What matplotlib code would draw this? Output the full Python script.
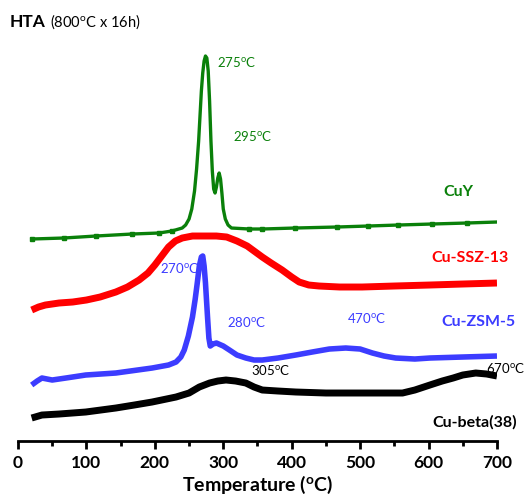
import numpy as np
import matplotlib.pyplot as plt

plt.rcParams['font.family'] = ['Lato', 'DejaVu Sans']

# TPR profiles, signal (offset units, baseline = axis)
t_cuy = [20, 67, 114, 167, 206, 225, 240, 245, 250, 254, 258, 261, 264, 266, 268, 270,
         272, 274, 276, 278, 280, 282, 284, 286, 288, 290, 292, 294, 296, 298, 300, 303,
         307, 312, 338, 357, 405, 466, 512, 556, 605, 656, 700]
s_cuy = [202, 203, 205, 207, 208, 210, 213, 216, 222, 232, 250, 272, 300, 325, 350, 368,
         380, 385, 383, 370, 340, 300, 270, 252, 248, 254, 263, 268, 262, 248, 232, 222,
         216, 213, 212, 212, 213, 214, 215, 216, 217, 218, 219]
t_mark = [20, 67, 114, 167, 206, 225, 338, 357, 405, 466, 512, 556, 605, 656]

t_ssz = [20, 30, 40, 60, 80, 100, 120, 143, 160, 177, 190, 200, 210, 220, 230, 240,
         255, 270, 290, 305, 320, 335, 345, 357, 370, 386, 400, 411, 425, 440, 470, 503,
         550, 602, 650, 700]
s_ssz = [131, 134, 136, 138, 139, 141, 144, 149, 154, 161, 168, 176, 185, 194, 200, 203,
         205, 205, 205, 204, 200, 195, 190, 184, 178, 171, 164, 159, 156, 155, 154, 154,
         155, 156, 157, 158]

t_zsm = [20, 28, 35, 50, 70, 99, 143, 196, 220, 231, 238, 243, 249, 255, 259, 262,
         265, 268, 270, 272, 274, 277, 279, 281, 285, 290, 300, 309, 320, 333, 345, 357,
         380, 406, 430, 455, 479, 500, 518, 535, 552, 580, 602, 650, 700]
s_zsm = [56, 60, 63, 61, 63, 66, 68, 73, 76, 79, 84, 91, 105, 124, 142, 158,
         175, 184, 185, 175, 158, 124, 103, 95, 97, 98, 95, 91, 86, 83, 81, 81,
         83, 86, 89, 92, 93, 92, 88, 85, 83, 82, 83, 84, 85]

t_beta = [20, 35, 60, 99, 143, 170, 196, 231, 250, 265, 280, 292, 304, 318, 333, 345,
          357, 380, 406, 450, 503, 562, 580, 602, 620, 636, 650, 669, 685, 700]
s_beta = [23, 26, 27, 29, 33, 36, 39, 44, 48, 54, 58, 60, 61, 60, 58, 54,
          51, 50, 49, 48, 48, 48, 51, 56, 60, 63, 66, 68, 67, 65]

green = '#0a800a'
red = '#ff0000'
blue = '#3c3cff'

fig = plt.figure(figsize=(5.26, 4.99), dpi=100)
ax = fig.add_axes([0.0342, 0.1162, 0.9106, 0.7936])

mark_cuy = [t_cuy.index(t) for t in t_mark]
ax.plot(t_cuy, s_cuy, color=green, lw=2.4, marker='s', ms=3, markevery=mark_cuy,
        solid_joinstyle='round')
ax.plot(t_ssz, s_ssz, color=red, lw=5, solid_capstyle='butt', solid_joinstyle='round')
ax.plot(t_zsm, s_zsm, color=blue, lw=4, solid_capstyle='butt', solid_joinstyle='round')
ax.plot(t_beta, s_beta, color='black', lw=5, solid_capstyle='butt', solid_joinstyle='round')

ax.set_xlim(0, 700)
ax.set_ylim(0, 396)
for s in ['left', 'right', 'top']:
    ax.spines[s].set_visible(False)
ax.spines['bottom'].set_linewidth(2)
ax.set_yticks([])
ax.set_xticks(np.arange(0, 701, 100))
ax.set_xticks(np.arange(50, 700, 100), minor=True)
ax.tick_params(axis='x', which='major', length=6, width=2, labelsize=12.5, pad=4)
ax.tick_params(axis='x', which='minor', length=3.5, width=2)
for lab in ax.get_xticklabels():
    lab.set_fontweight('bold')
ax.set_xlabel('Temperature ($\\mathregular{^o}$C)', fontsize=14, fontweight='bold', labelpad=2)

deg = '$\\mathregular{^o}$C'
small = dict(fontsize=9.5, ha='center', va='center')
ax.text(319, 379, '275' + deg, color=green, **small)
ax.text(343, 305, '295' + deg, color=green, **small)
ax.text(237, 173, '270' + deg, color=blue, **small)
ax.text(334, 119, '280' + deg, color=blue, **small)
ax.text(510, 123, '470' + deg, color=blue, **small)
ax.text(369, 71, '305' + deg, color='black', **small)
ax.text(713, 73, '670' + deg, color='black', **small)

big = dict(fontsize=11.5, fontweight='bold', ha='center', va='center')
ax.text(644, 249, 'CuY', color=green, **big)
ax.text(660, 183, 'Cu-SSZ-13', color=red, **big)
ax.text(673, 119, 'Cu-ZSM-5', color=blue, **big)
ax.text(668, 19, 'Cu-beta(38)', color='black', **big)

fig.text(10 / 526, 1 - 22 / 499, 'HTA', fontsize=12.5, fontweight='bold', va='center')
fig.text(50 / 526, 1 - 22 / 499, '(800' + deg + ' x 16h)', fontsize=10.5, va='center')

fig.savefig('out.png', dpi=100)
